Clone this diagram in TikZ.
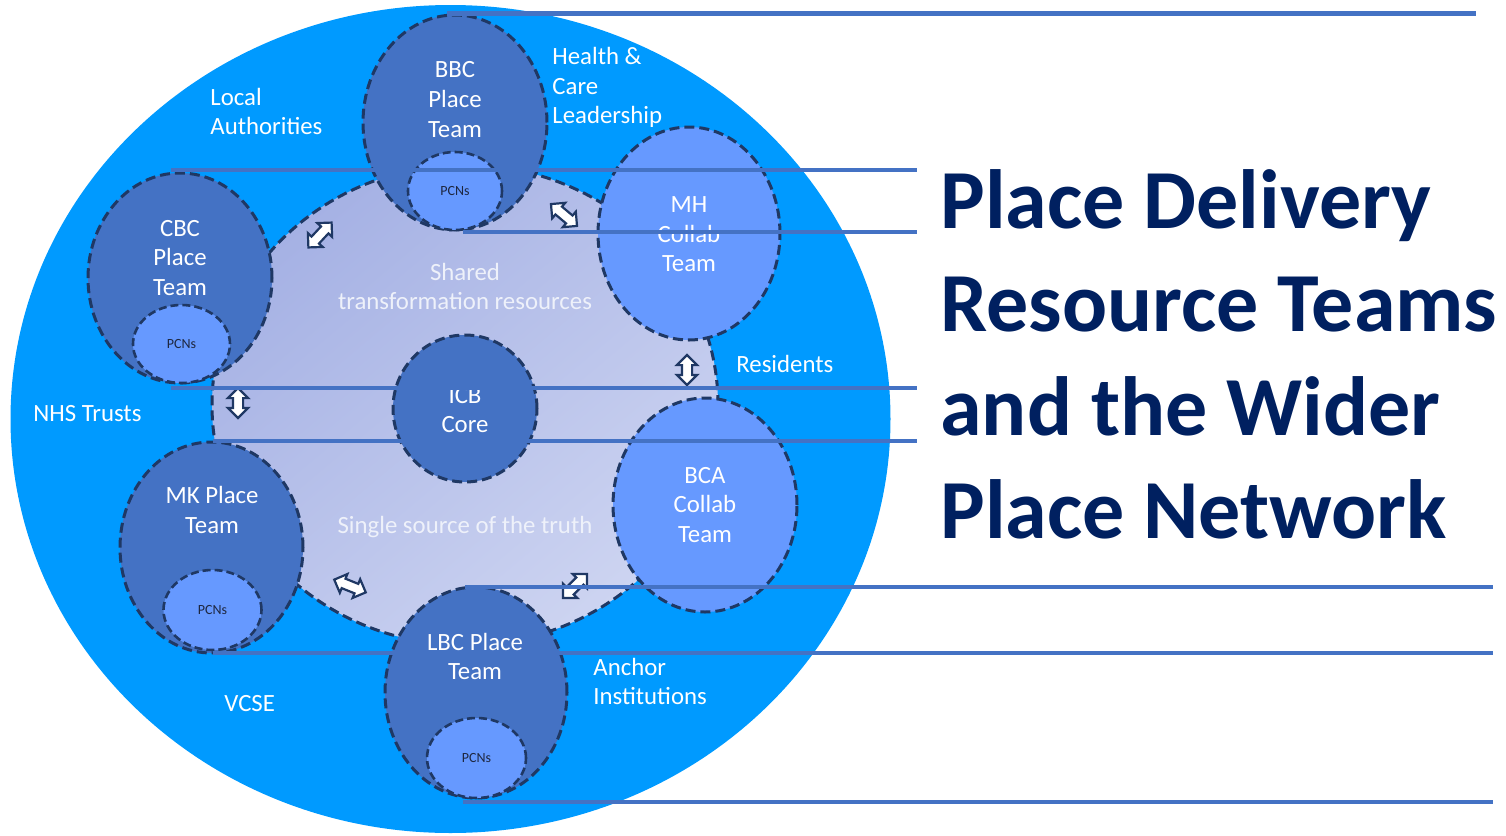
\documentclass[tikz,border=0pt]{standalone}
\usepackage{fontspec}
\setmainfont{Carlito}
\usetikzlibrary{shapes.geometric,shapes.arrows}
\definecolor{outerblue}{HTML}{009AFF}
\definecolor{teamblue}{HTML}{4472C4}
\definecolor{lightblue}{HTML}{6699FF}
\definecolor{navy}{HTML}{1F3864}
\definecolor{lavA}{HTML}{A5B1E4}
\definecolor{lavB}{HTML}{CDD4F1}
\definecolor{titleblue}{HTML}{002060}
\definecolor{softwhite}{HTML}{EEF1FA}
\definecolor{pcntext}{HTML}{1E2740}
\begin{document}
\begin{tikzpicture}[x=0.5pt,y=-0.5pt,
  dashedge/.style={draw=navy, line width=1.5pt, dash pattern=on 5pt off 2.5pt},
  teamcirc/.style={ellipse, dashedge, fill=teamblue, inner sep=0pt},
  collabcirc/.style={ellipse, dashedge, fill=lightblue, inner sep=0pt},
  pcncirc/.style={ellipse, draw=navy, line width=1.3pt, dash pattern=on 4pt off 2pt, fill=lightblue, inner sep=0pt,
    font=\fontsize{7}{8}\selectfont, text=pcntext},
  teamtext/.style={text=white, align=center, inner sep=0pt, font=\fontsize{12.4}{14.8}\selectfont},
  ringtext/.style={text=white, align=left, anchor=west, inner sep=0pt, font=\fontsize{12.4}{14.8}\selectfont},
  innertext/.style={text=softwhite, align=center, inner sep=0pt, font=\fontsize{12.4}{14.8}\selectfont},
  dblarrow/.style={double arrow, draw=navy, fill=white, line width=1.1pt, minimum height=17pt,
    minimum width=9pt, double arrow head extend=2.5pt, double arrow head indent=0pt,
    inner xsep=0pt, inner ysep=2pt},
  rule/.style={draw=teamblue, line width=2.3pt}
]
\useasboundingbox (0,0) rectangle (1506,836);
% outer ring
\node[ellipse, fill=outerblue, minimum width=440pt, minimum height=414pt, inner sep=0pt] (outer) at (450.5,419) {};
% inner shared area
\node[ellipse, dashedge, top color=lavA, bottom color=lavB, shading angle=40,
  minimum width=253pt, minimum height=240pt, inner sep=0pt] (inner) at (465,405) {};
% team circles
\node[teamcirc, minimum width=92pt, minimum height=107.5pt] (bbc) at (455,122.5) {};
\node[pcncirc, minimum width=47pt, minimum height=39pt] (bbcpcn) at (455,191) {PCNs};
\node[teamcirc, minimum width=92pt, minimum height=105pt] (cbc) at (180,278) {};
\node[pcncirc, minimum width=48.5pt, minimum height=39pt] (cbcpcn) at (181.5,344) {PCNs};
\node[teamcirc, minimum width=91.5pt, minimum height=105.5pt] (mk) at (211.5,547.5) {};
\node[pcncirc, minimum width=49pt, minimum height=40pt] (mkpcn) at (212.5,610) {PCNs};
\node[teamcirc, minimum width=91pt, minimum height=105.5pt] (lbc) at (476,692.5) {};
\node[pcncirc, minimum width=49.5pt, minimum height=40pt] (lbcpcn) at (476.5,758) {PCNs};
\node[collabcirc, minimum width=91pt, minimum height=106.5pt] (mh) at (689,233.5) {};
\node[collabcirc, minimum width=92pt, minimum height=107pt] (bca) at (705,505) {};
\node[teamcirc, minimum width=72pt, minimum height=73.5pt] (icb) at (465,408.5) {};
% team texts
\node[teamtext] (bbct) at (455,99.5) {BBC\\Place\\Team};
\node[teamtext] (cbct) at (180,258) {CBC\\Place\\Team};
\node[teamtext] (mkt) at (212,510) {MK Place\\Team};
\node[teamtext] (lbct) at (475,656.5) {LBC Place\\Team};
\node[teamtext] (mht) at (689,234.5) {MH\\Collab\\Team};
\node[teamtext] (bcat) at (705,505) {BCA\\Collab\\Team};
\node[teamtext] (icbt) at (465,410) {ICB\\Core};
% ring texts
\node[ringtext] (la) at (210,111.5) {Local\\Authorities};
\node[ringtext] (hcl) at (552,87.5) {Health \&\\Care\\Leadership};
\node[ringtext] (nhs) at (33,413.5) {NHS Trusts};
\node[ringtext] (res) at (736,363.5) {Residents};
\node[ringtext] (vcse) at (224,703.5) {VCSE};
\node[ringtext] (anc) at (593,681.5) {Anchor\\Institutions};
% inner texts
\node[innertext] (shared) at (465,286.5) {Shared\\transformation resources};
\node[innertext] (single) at (465,527.5) {Single source of the truth};
% arrows
\node[dblarrow, rotate=47] (a1) at (320,235) {};
\node[dblarrow, rotate=-40] (a2) at (564,215) {};
\node[dblarrow, rotate=90, minimum height=15pt] (a3) at (687,370) {};
\node[dblarrow, rotate=90, minimum height=15pt] (a4) at (238,403) {};
\node[dblarrow, rotate=-22] (a5) at (350,586) {};
\node[dblarrow, rotate=45] (a6) at (575,586) {};
% title
\node[text=titleblue, align=left, anchor=west, inner sep=0pt,
  font=\fontsize{42}{51.7}\selectfont\bfseries] (title) at (940,354.5)
  {Place Delivery\\Resource Teams\\and the Wider\\Place Network};
% horizontal rules
\coordinate (r1a) at (447,13.5);  \coordinate (r1b) at (1476,13.5);
\coordinate (r2a) at (171,170);   \coordinate (r2b) at (917,170);
\coordinate (r3a) at (463,232);   \coordinate (r3b) at (917,232);
\coordinate (r4a) at (171,388);   \coordinate (r4b) at (917,388);
\coordinate (r5a) at (213,441);   \coordinate (r5b) at (917,441);
\coordinate (r6a) at (465,587);   \coordinate (r6b) at (1493,587);
\coordinate (r7a) at (213,653);   \coordinate (r7b) at (1493,653);
\coordinate (r8a) at (463,802);   \coordinate (r8b) at (1493,802);
\draw[rule] (r1a) -- (r1b);
\draw[rule] (r2a) -- (r2b);
\draw[rule] (r3a) -- (r3b);
\draw[rule] (r4a) -- (r4b);
\draw[rule] (r5a) -- (r5b);
\draw[rule] (r6a) -- (r6b);
\draw[rule] (r7a) -- (r7b);
\draw[rule] (r8a) -- (r8b);
\end{tikzpicture}
\end{document}
